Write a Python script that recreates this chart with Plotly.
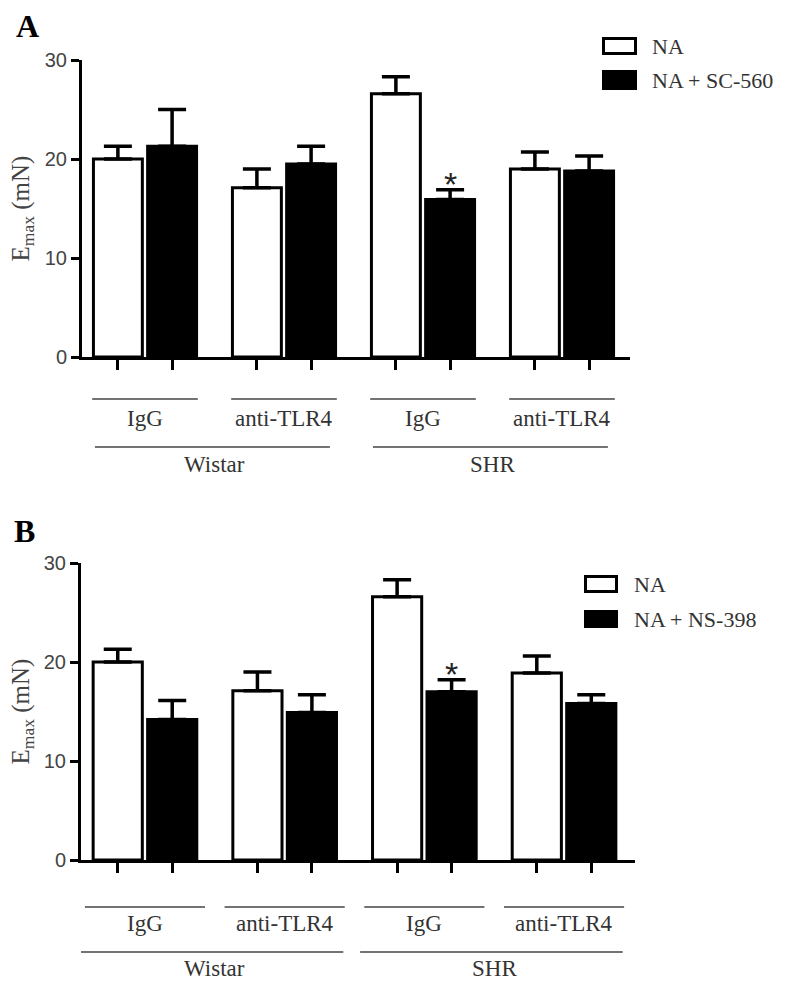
import plotly.graph_objects as go

# ---------------- data ----------------
treatments = ["IgG", "anti-TLR4", "IgG", "anti-TLR4"]
strains = ["Wistar", "SHR"]

# Panel A
a_names = ["NA", "NA + SC-560"]
a_na_mean = [20.0, 17.1, 26.6, 19.0]
a_na_sem = [1.3, 1.9, 1.7, 1.7]
a_sc_mean = [21.3, 19.5, 15.9, 18.8]
a_sc_sem = [3.7, 1.8, 1.0, 1.5]
a_sig = ["", "", "*", ""]

# Panel B
b_names = ["NA", "NA + NS-398"]
b_na_mean = [20.0, 17.1, 26.6, 18.9]
b_na_sem = [1.3, 1.9, 1.7, 1.7]
b_ns_mean = [14.2, 14.9, 17.0, 15.8]
b_ns_sem = [1.9, 1.8, 1.2, 0.9]
b_sig = ["", "", "*", ""]

yticks = [0, 10, 20, 30]

# ---------------- layout helpers ----------------
W, H = 800, 984
SERIF = "Liberation Serif, Times New Roman, serif"
SANS = "Liberation Sans, Arial, sans-serif"
D = 0.195   # half distance between paired bars (group units)
BW = 0.352  # bar width (group units)


def px(x):
    return x / W


def py(y):
    return 1 - y / H


fig = go.Figure()
shapes = []
annotations = []

panels = [
    dict(letter="A", xa="x", ya="y", names=a_names,
         m1=a_na_mean, s1=a_na_sem, m2=a_sc_mean, s2=a_sc_sem, sig=a_sig,
         xdom=[82, 630], xrng=[-0.4532, 3.4892], ydom=[357, 60],
         letter_xy=(14, 26), ytitle_x=22,
         leg_box=(602, 637, 37, 55, 70, 90), leg_text_x=650,
         line1_y=399, lab1_y=418, line2_y=447, lab2_y=464,
         hw=0.38, sup=(0.36, 0.33)),
    dict(letter="B", xa="x2", ya="y2", names=b_names,
         m1=b_na_mean, s1=b_na_sem, m2=b_ns_mean, s2=b_ns_sem, sig=b_sig,
         xdom=[81, 635], xrng=[-0.458, 3.508], ydom=[860, 563],
         letter_xy=(12, 531), ytitle_x=22,
         leg_box=(584, 618, 575, 593, 610, 628), leg_text_x=632,
         line1_y=907, lab1_y=923, line2_y=952, lab2_y=968,
         hw=0.43, sup=(0.46, 0.42)),
]

for i, p in enumerate(panels):
    n = len(p["m1"])
    xs1 = [g - D for g in range(n)]
    xs2 = [g + D for g in range(n)]
    err_common = dict(type="data", symmetric=False, arrayminus=[0] * n,
                      color="black", thickness=3.5, width=14, visible=True)
    fig.add_trace(go.Bar(
        x=xs1, y=p["m1"], width=BW, name=p["names"][0],
        marker=dict(color="white", line=dict(color="black", width=3)),
        error_y=dict(array=p["s1"], **err_common),
        xaxis=p["xa"], yaxis=p["ya"], showlegend=False, hoverinfo="skip"))
    fig.add_trace(go.Bar(
        x=xs2, y=p["m2"], width=BW, name=p["names"][1],
        marker=dict(color="black", line=dict(color="black", width=3)),
        error_y=dict(array=p["s2"], **err_common),
        xaxis=p["xa"], yaxis=p["ya"], showlegend=False, hoverinfo="skip"))

    suffix = "" if i == 0 else str(i + 1)
    fig.update_layout(**{
        "xaxis" + suffix: dict(
            domain=[px(p["xdom"][0]), px(p["xdom"][1])], range=p["xrng"],
            anchor=p["ya"], showline=True, linecolor="black", linewidth=3,
            ticks="outside", ticklen=10, tickwidth=3, tickcolor="black",
            tickvals=xs1 + xs2, showticklabels=False, showgrid=False,
            zeroline=False, fixedrange=True, automargin=False),
        "yaxis" + suffix: dict(
            domain=[py(p["ydom"][0]), py(p["ydom"][1])], range=[0, 30],
            anchor=p["xa"], showline=True, linecolor="black", linewidth=3,
            ticks="outside", ticklen=8, tickwidth=3, tickcolor="black",
            tickvals=yticks, tickfont=dict(family=SANS, size=20, color="#444"),
            showgrid=False, zeroline=False, fixedrange=True, automargin=False),
    })

    # significance marks
    for g in range(n):
        if p["sig"][g]:
            annotations.append(dict(
                x=xs2[g], y=p["m2"][g] + p["s2"][g], xref=p["xa"], yref=p["ya"],
                text=p["sig"][g], showarrow=False, yanchor="middle", yshift=6,
                font=dict(family=SANS, size=34, color="#222")))

    # panel letter
    annotations.append(dict(
        x=px(p["letter_xy"][0]), y=py(p["letter_xy"][1]), xref="paper", yref="paper",
        xanchor="left", yanchor="middle", showarrow=False,
        text="<b>%s</b>" % p["letter"], font=dict(family=SERIF, size=32, color="black")))

    # y-axis title
    annotations.append(dict(
        x=px(p["ytitle_x"]), y=py((p["ydom"][0] + p["ydom"][1]) / 2),
        xref="paper", yref="paper", xanchor="center", yanchor="middle",
        textangle=-90, showarrow=False, text="E<sub>max</sub> (mN)",
        font=dict(family=SERIF, size=25, color="#444")))

    # legend (drawn manually to match swatch shape)
    x0, x1, ya0, ya1, yb0, yb1 = p["leg_box"]
    shapes.append(dict(type="rect", xref="paper", yref="paper",
                       x0=px(x0 + 1.5), x1=px(x1 - 1.5), y0=py(ya1 - 1.5), y1=py(ya0 + 1.5),
                       line=dict(color="black", width=3), fillcolor="white"))
    shapes.append(dict(type="rect", xref="paper", yref="paper",
                       x0=px(x0), x1=px(x1), y0=py(yb1), y1=py(yb0),
                       line=dict(color="black", width=0), fillcolor="black"))
    for name, (t0, t1) in zip(p["names"], [(ya0, ya1), (yb0, yb1)]):
        annotations.append(dict(
            x=px(p["leg_text_x"]), y=py((t0 + t1) / 2), xref="paper", yref="paper",
            xanchor="left", yanchor="middle", showarrow=False, text=name,
            font=dict(family=SERIF, size=22, color="#333")))

    # category labels under the axis
    for g in range(n):
        shapes.append(dict(type="line", xref=p["xa"], yref="paper",
                           x0=g - p["hw"], x1=g + p["hw"],
                           y0=py(p["line1_y"]), y1=py(p["line1_y"]),
                           line=dict(color="#444", width=1.6)))
        annotations.append(dict(
            x=g, y=py(p["lab1_y"]), xref=p["xa"], yref="paper",
            xanchor="center", yanchor="middle", showarrow=False, text=treatments[g],
            font=dict(family=SERIF, size=23, color="#333")))
    for s, strain in enumerate(strains):
        g0, g1 = 2 * s, 2 * s + 1
        shapes.append(dict(type="line", xref=p["xa"], yref="paper",
                           x0=g0 - p["sup"][0], x1=g1 + p["sup"][1],
                           y0=py(p["line2_y"]), y1=py(p["line2_y"]),
                           line=dict(color="#444", width=1.6)))
        annotations.append(dict(
            x=(g0 + g1) / 2, y=py(p["lab2_y"]), xref=p["xa"], yref="paper",
            xanchor="center", yanchor="middle", showarrow=False, text=strain,
            font=dict(family=SERIF, size=23, color="#333")))

fig.update_layout(
    template="none",
    width=W, height=H, margin=dict(l=0, r=0, t=0, b=0, pad=0),
    paper_bgcolor="white", plot_bgcolor="white",
    barmode="overlay", showlegend=False, hovermode=False,
    shapes=shapes, annotations=annotations,
)

fig.write_html(
    "out.html",
    config={"displayModeBar": False, "staticPlot": True},
    post_script="document.body.style.margin='0';document.body.style.overflow='hidden';",
)
